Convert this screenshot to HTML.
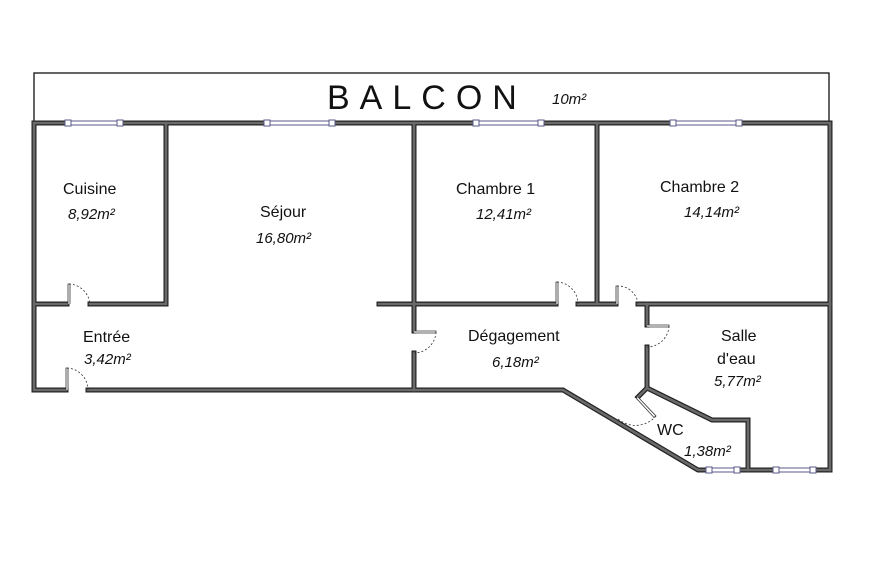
<!DOCTYPE html>
<html><head><style>
html,body{margin:0;padding:0;background:#fff;}
svg{display:block;}
text{font-family:"Liberation Sans","DejaVu Sans",sans-serif;fill:#111;}
.n{font-size:16px;}
.a{font-size:15px;font-style:italic;}
</style></head><body>
<svg width="876" height="564" viewBox="0 0 876 564">
<rect x="34" y="73" width="795" height="50" fill="#fff" stroke="#111" stroke-width="1.3"/>
<g stroke="#222" stroke-width="5" stroke-linecap="square" fill="none">
<path d="M34 123H830V470"/>
<path d="M34 123V390H66M88 390H563L698 470H830"/>
<path d="M166 123V304H90M67 304H34"/>
<path d="M414 123V331M414 353V390"/>
<path d="M379 304H556M578 304H616M638 304H830"/>
<path d="M597 123V304"/>
<path d="M647 304V325M647 347V388L638 397M647 388L712 420H748V470"/>
</g>
<g stroke="#6a6a6a" stroke-width="2.6" stroke-linecap="square" fill="none">
<path d="M34 123H830V470"/>
<path d="M34 123V390H66M88 390H563L698 470H830"/>
<path d="M166 123V304H90M67 304H34"/>
<path d="M414 123V331M414 353V390"/>
<path d="M379 304H556M578 304H616M638 304H830"/>
<path d="M597 123V304"/>
<path d="M647 304V325M647 347V388L638 397M647 388L712 420H748V470"/>
</g>
<g stroke="#5a5a8a" stroke-width="1" fill="#fff">
<rect x="67" y="121" width="54" height="4"/><rect x="268" y="121" width="64" height="4"/>
<rect x="477" y="121" width="64" height="4"/><rect x="673" y="121" width="66" height="4"/>
<rect x="710" y="468" width="28" height="4"/><rect x="777" y="468" width="36" height="4"/>
<rect x="65" y="120" width="6" height="6"/><rect x="117" y="120" width="6" height="6"/>
<rect x="264" y="120" width="6" height="6"/><rect x="329" y="120" width="6" height="6"/>
<rect x="473" y="120" width="6" height="6"/><rect x="538" y="120" width="6" height="6"/>
<rect x="670" y="120" width="6" height="6"/><rect x="736" y="120" width="6" height="6"/>
<rect x="706" y="467" width="6" height="6"/><rect x="734" y="467" width="6" height="6"/>
<rect x="773" y="467" width="6" height="6"/><rect x="810" y="467" width="6" height="6"/>
</g>
<g fill="none" stroke="#333" stroke-width="0.8">
<path d="M68 304V284h2V304" fill="#fff"/><path d="M69 284A22 22 0 0 1 90 304" stroke-dasharray="2,2"/>
<path d="M66 390V368h2V390" fill="#fff"/><path d="M67 368A22 22 0 0 1 88 390" stroke-dasharray="2,2"/>
<path d="M556 304V282h2V304" fill="#fff"/><path d="M557 282A22 22 0 0 1 578 304" stroke-dasharray="2,2"/>
<path d="M616 304V286h2V304" fill="#fff"/><path d="M617 286A20 20 0 0 1 638 304" stroke-dasharray="2,2"/>
<path d="M414 331H436v2H414" fill="#fff"/><path d="M436 332A22 22 0 0 1 414 353" stroke-dasharray="2,2"/>
<path d="M647 325H669v2H647" fill="#fff"/><path d="M669 326A22 22 0 0 1 647 347" stroke-dasharray="2,2"/>
<path d="M638 397L656 416l-2 1.5L636.5 398.5" fill="#fff"/><path d="M656 416A27 27 0 0 1 617 418" stroke-dasharray="2,2"/>
</g>
<text x="327" y="109" style="font-size:34px;letter-spacing:10px">BALCON</text>
<text x="552" y="104" class="a">10m²</text>
<text x="63" y="194" class="n">Cuisine</text><text x="68" y="219" class="a">8,92m²</text>
<text x="260" y="217" class="n">Séjour</text><text x="256" y="243" class="a">16,80m²</text>
<text x="456" y="194" class="n">Chambre 1</text><text x="476" y="219" class="a">12,41m²</text>
<text x="660" y="192" class="n">Chambre 2</text><text x="684" y="217" class="a">14,14m²</text>
<text x="83" y="342" class="n">Entrée</text><text x="84" y="364" class="a">3,42m²</text>
<text x="468" y="341" class="n">Dégagement</text><text x="492" y="367" class="a">6,18m²</text>
<text x="721" y="341" class="n">Salle</text><text x="717" y="364" class="n">d'eau</text><text x="714" y="386" class="a">5,77m²</text>
<text x="657" y="435" class="n">WC</text><text x="684" y="456" class="a">1,38m²</text>
</svg>
</body></html>
